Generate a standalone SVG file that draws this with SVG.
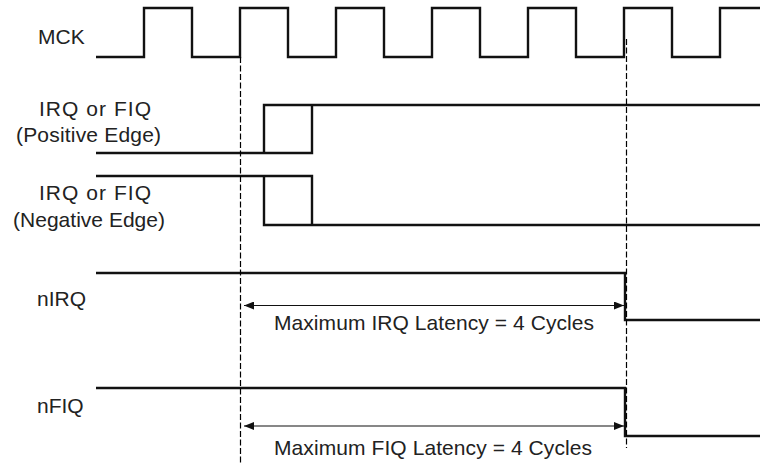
<svg xmlns="http://www.w3.org/2000/svg" width="760" height="463" viewBox="0 0 760 463">
<defs>
<style>
.lbl{font-family:"Liberation Sans",Arial,sans-serif;font-size:21px;fill:#222}
.sig{fill:none;stroke:#111;stroke-width:2.4;stroke-linejoin:miter;stroke-linecap:butt}
.dash{fill:none;stroke:#000;stroke-width:1.2;stroke-dasharray:6,2.5}
.arr{fill:none;stroke:#111;stroke-width:1.2}
</style>
<marker id="ah" viewBox="0 0 10 8" refX="10" refY="4" markerWidth="10" markerHeight="8" markerUnits="userSpaceOnUse" orient="auto-start-reverse">
<path d="M0,0 L10,4 L0,8 Z" fill="#111"/>
</marker>
</defs>
<rect width="760" height="463" fill="#fff"/>
<g id="mck">
<text class="lbl" x="38" y="44">MCK</text>
<path class="sig" d="M96,57 H144 V8 H192 V57 H240 V8 H288 V57 H336 V8 H384 V57 H432 V8 H480 V57 H528 V8 H576 V57 H624 V8 H672 V57 H720 V8 H760"/>
</g>
<g id="irq-pos">
<text class="lbl" x="39" y="115.5" textLength="112" lengthAdjust="spacing">IRQ or FIQ</text>
<text class="lbl" x="16" y="142" textLength="145" lengthAdjust="spacing">(Positive Edge)</text>
<path class="sig" d="M96,153 H312 V105"/>
<path class="sig" d="M264,153 V105 H760"/>
</g>
<g id="irq-neg">
<text class="lbl" x="39" y="200" textLength="112" lengthAdjust="spacing">IRQ or FIQ</text>
<text class="lbl" x="13" y="227" textLength="152" lengthAdjust="spacing">(Negative Edge)</text>
<path class="sig" d="M96,176 H312 V225"/>
<path class="sig" d="M264,176 V225 H760"/>
</g>
<g id="nirq">
<text class="lbl" x="37" y="306">nIRQ</text>
<path class="sig" d="M96,273 H625 V320 H760"/>
</g>
<g id="nfiq">
<text class="lbl" x="37" y="413">nFIQ</text>
<path class="sig" d="M96,388 H625 V436 H760"/>
</g>
<g id="connectors">
<line class="dash" x1="240.5" y1="57" x2="240.5" y2="463"/>
<line class="dash" x1="626.5" y1="39" x2="626.5" y2="448"/>
<line class="arr" x1="244" y1="305.5" x2="624" y2="305.5" marker-start="url(#ah)" marker-end="url(#ah)"/>
<line class="arr" x1="244" y1="426" x2="624" y2="426" marker-start="url(#ah)" marker-end="url(#ah)"/>
</g>
<g id="latency-labels">
<text class="lbl" x="274" y="330" textLength="320" lengthAdjust="spacing">Maximum IRQ Latency = 4 Cycles</text>
<text class="lbl" x="274" y="455" textLength="318" lengthAdjust="spacing">Maximum FIQ Latency = 4 Cycles</text>
</g>
</svg>
